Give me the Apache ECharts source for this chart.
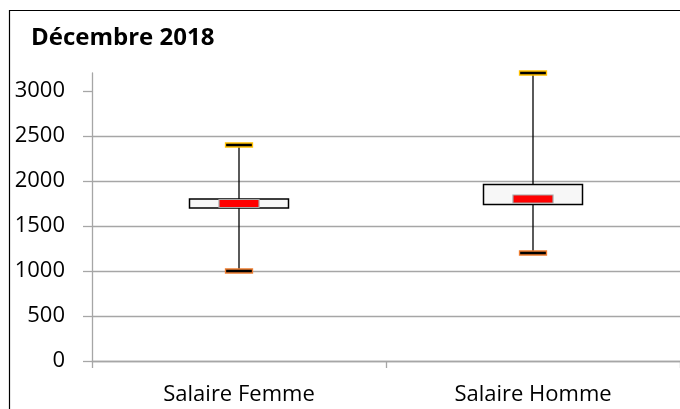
<!DOCTYPE html>
<html>
<head>
<meta charset="utf-8">
<script src="https://cdn.jsdelivr.net/npm/echarts@6/dist/echarts.min.js"></script>
<style>
html,body{margin:0;padding:0;background:#fff;}
#c{width:680px;height:409px;}
</style>
</head>
<body>
<div id="c"></div>
<script>
const categories = ['Salaire Femme', 'Salaire Homme'];
const minValues = [1000, 1200];
const q1Values = [1700, 1740];
const medianValues = [1750, 1800];
const q3Values = [1800, 1960];
const maxValues = [2400, 3200];
const yTicks = [0, 500, 1000, 1500, 2000, 2500, 3000];

const data = categories.map((c, i) => [i, minValues[i], q1Values[i], medianValues[i], q3Values[i], maxValues[i]]);

const chart = echarts.init(document.getElementById('c'));
const FONT = 'Open Sans';
chart.setOption({
  animation: false,
  backgroundColor: '#fff',
  graphic: [{
    type: 'rect', shape: {x: 9.5, y: 10.5, width: 700, height: 420},
    style: {fill: 'none', stroke: '#000', lineWidth: 1.2}, z: -10, silent: true
  }],
  title: {
    text: 'Décembre 2018', left: 26, top: 21,
    textStyle: {fontFamily: FONT, fontWeight: 'bold', fontSize: 24, color: '#000'}
  },
  grid: {left: 92, top: 73, width: 598, height: 288, containLabel: false},
  xAxis: {
    type: 'category', data: categories, boundaryGap: true,
    axisLine: {lineStyle: {color: '#a6a6a6', width: 1.3}},
    axisTick: {show: true, length: 7, lineStyle: {color: '#a6a6a6', width: 1.3}},
    axisLabel: {fontFamily: FONT, fontSize: 22, color: '#000', margin: 23}
  },
  yAxis: {
    type: 'value', min: 0, max: 3200, interval: 500,
    axisLine: {show: true, lineStyle: {color: '#a6a6a6', width: 1.3}},
    axisTick: {show: true, length: 9, customValues: yTicks, lineStyle: {color: '#a6a6a6', width: 1.3}},
    axisLabel: {fontFamily: FONT, fontSize: 22, color: '#000', margin: 27, customValues: yTicks,
      formatter: function (v) { return String(v); }},
    splitLine: {show: true, showMaxLine: false, lineStyle: {color: '#a6a6a6', width: 1.3}}
  },
  series: [{
    type: 'custom',
    clip: false,
    data: data,
    encode: {x: 0, y: [1, 2, 3, 4, 5]},
    renderItem: function (params, api) {
      const x = api.coord([api.value(0), 0])[0];
      const pMin = api.coord([api.value(0), api.value(1)])[1];
      const pQ1 = api.coord([api.value(0), api.value(2)])[1];
      const pMed = api.coord([api.value(0), api.value(3)])[1];
      const pQ3 = api.coord([api.value(0), api.value(4)])[1];
      const pMax = api.coord([api.value(0), api.value(5)])[1];
      const bw = 99, cw = 27, ch = 4, mw = 40, mh = 8;
      return {
        type: 'group',
        children: [
          {type: 'line', shape: {x1: x, y1: pMax, x2: x, y2: pMin}, style: {stroke: '#000', lineWidth: 1.3}},
          {type: 'rect', shape: {x: x - bw / 2, y: pQ3, width: bw, height: pQ1 - pQ3},
            style: {fill: '#f7f7f7', stroke: '#000', lineWidth: 1.5}},
          {type: 'rect', shape: {x: x - mw / 2, y: pMed - mh / 2, width: mw, height: mh},
            style: {fill: '#ff0000', stroke: '#a6a6a6', lineWidth: 1.2}},
          {type: 'rect', shape: {x: x - cw / 2, y: pMax - ch / 2, width: cw, height: ch},
            style: {fill: '#000', stroke: '#ffc000', lineWidth: 1.3}},
          {type: 'rect', shape: {x: x - cw / 2, y: pMin - ch / 2, width: cw, height: ch},
            style: {fill: '#000', stroke: '#ed7d31', lineWidth: 1.3}}
        ]
      };
    }
  }]
});
</script>
</body>
</html>
